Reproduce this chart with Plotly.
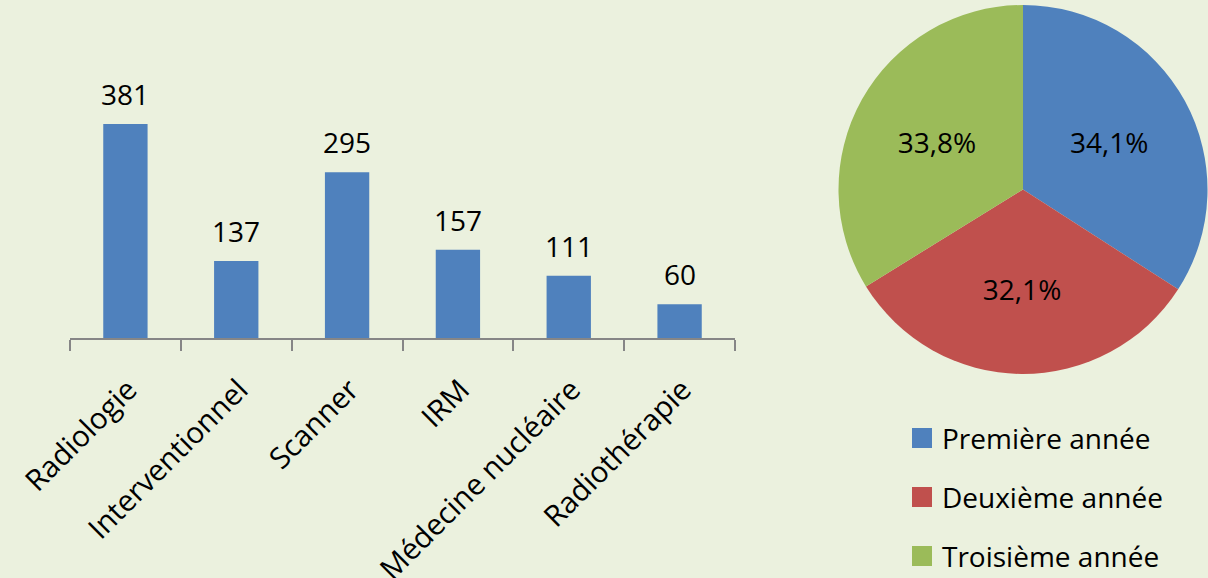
import plotly.graph_objects as go

categories = ["Radiologie", "Interventionnel", "Scanner", "IRM", "Médecine nucléaire", "Radiothérapie"]
counts = [381, 137, 295, 157, 111, 60]

years = ["Première année", "Deuxième année", "Troisième année"]
shares = [34.1, 32.1, 33.8]

BG = "#EBF1DE"
BLUE = "#4F81BD"
RED = "#C0504D"
GREEN = "#9BBB59"
FONT = "Open Sans"
W, H = 1208, 578

fig = go.Figure()

fig.add_trace(go.Bar(
    x=categories, y=counts, marker=dict(color=BLUE, line=dict(width=0)),
    width=0.4, showlegend=False, hoverinfo="skip",
))

for c, v in zip(categories, counts):
    fig.add_annotation(x=c, y=v, xref="x", yref="y", text=str(v), showarrow=False,
                       yanchor="bottom", yshift=9, font=dict(family=FONT, size=28, color="black"))

fig.add_trace(go.Pie(
    labels=years, values=shares, sort=False, direction="clockwise", rotation=0,
    marker=dict(colors=[BLUE, RED, GREEN], line=dict(width=0)),
    text=[f"{v:.1f}%".replace(".", ",") for v in shares], textinfo="text",
    textposition="inside", insidetextorientation="horizontal",
    textfont=dict(family=FONT, size=28, color="black"),
    domain=dict(x=[838 / W, 1208 / W], y=[(H - 374) / H, (H - 5) / H]),
    showlegend=False, hoverinfo="skip",
))

# legend (built from the pie categories)
colors = [BLUE, RED, GREEN]
for i, (lab, col) in enumerate(zip(years, colors)):
    yc = 438 + i * 59
    fig.add_shape(type="rect", xref="paper", yref="paper",
                  x0=912 / W, x1=932 / W, y0=(H - yc - 10) / H, y1=(H - yc + 10) / H,
                  fillcolor=col, line=dict(width=0))
    fig.add_annotation(xref="paper", yref="paper", x=940 / W, y=(H - yc) / H, text=lab,
                       showarrow=False, xanchor="left", yanchor="middle",
                       font=dict(family=FONT, size=28, color="black"))

fig.update_layout(
    width=W, height=H, margin=dict(l=0, r=0, t=0, b=0),
    paper_bgcolor=BG, plot_bgcolor=BG,
    font=dict(family=FONT, color="black"),
    xaxis=dict(domain=[70 / W, 735 / W], tickson="boundaries", ticks="outside", ticklen=11,
               tickcolor="#868686", tickwidth=1.5, showline=True, linecolor="#868686", linewidth=1.5,
               tickangle=-45, tickfont=dict(family=FONT, size=29.5, color="black"),
               ticklabelstandoff=21, ticklabelshift=3, showgrid=False, automargin=False, fixedrange=True),
    yaxis=dict(domain=[(H - 338) / H, (H - 20) / H], range=[0, 566], visible=False,
               showgrid=False, zeroline=False, automargin=False, fixedrange=True),
    bargap=0.6,
)

fig.write_html("out.html", config={"displayModeBar": False},
               post_script="document.body.style.margin='0';document.body.style.background='" + BG + "';")
